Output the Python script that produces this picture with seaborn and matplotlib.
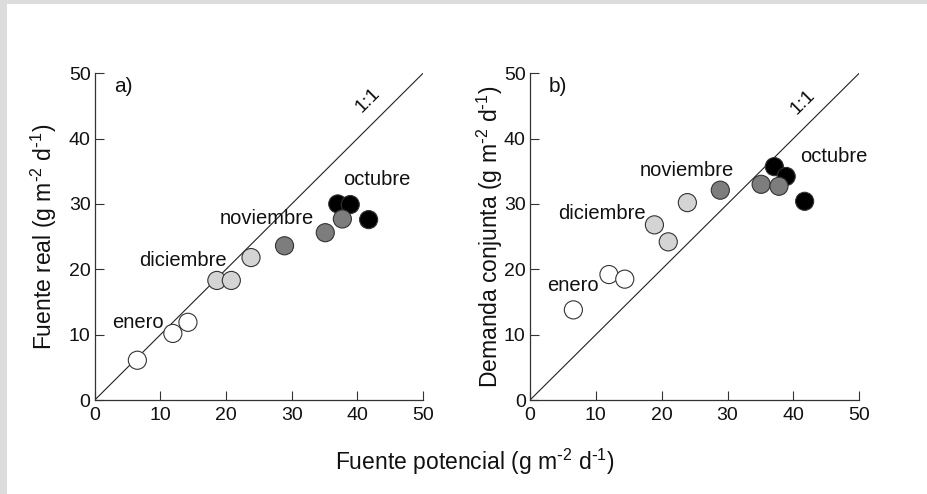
import matplotlib
matplotlib.use("Agg")
import matplotlib.pyplot as plt
import seaborn as sns
import pandas as pd
from matplotlib.patches import Rectangle

sns.set_theme(style="white")
plt.rcParams['font.family'] = ['Liberation Sans', 'DejaVu Sans']
plt.rcParams['mathtext.default'] = 'regular'

# Monthly values (g m-2 d-1)
months = ["octubre"] * 3 + ["noviembre"] * 3 + ["diciembre"] * 3 + ["enero"] * 3
fuente_potencial = [37.0, 38.9, 41.7, 28.9, 35.1, 37.7, 18.6, 20.8, 23.8, 6.5, 11.9, 14.2]
fuente_real = [30.0, 29.9, 27.6, 23.6, 25.6, 27.7, 18.3, 18.3, 21.8, 6.1, 10.2, 11.9]
fuente_potencial_b = [37.1, 38.9, 41.7, 28.9, 35.1, 37.8, 18.9, 21.0, 23.9, 6.6, 12.0, 14.4]
demanda_conjunta = [35.7, 34.2, 30.4, 32.1, 33.0, 32.7, 26.8, 24.2, 30.2, 13.8, 19.2, 18.5]

month_colors = {"octubre": "#000000", "noviembre": "#7d7d7d",
                "diciembre": "#d4d4d4", "enero": "#ffffff"}

ticks = [0, 10, 20, 30, 40, 50]

label_pos_a = {"enero": (6.6, 11.8), "diciembre": (13.4, 21.4),
               "noviembre": (26.2, 27.7), "octubre": (42.9, 33.8)}
label_pos_b = {"enero": (6.5, 17.6), "diciembre": (10.9, 28.6),
               "noviembre": (23.8, 35.1), "octubre": (46.1, 37.2)}

units = r"(g m$^{\text{-}2}$ d$^{\text{-}1}$)"

df_a = pd.DataFrame({"x": fuente_potencial, "y": fuente_real, "mes": months})
df_b = pd.DataFrame({"x": fuente_potencial_b, "y": demanda_conjunta, "mes": months})

fig = plt.figure(figsize=(9.28, 4.94), dpi=100)
fig.patch.set_facecolor("white")
# thin grey frame along the left and top edges
fig.patches.append(Rectangle((0, 0), 7 / 928, 1, transform=fig.transFigure,
                             facecolor="#dcdcdc", edgecolor="none"))
fig.patches.append(Rectangle((0, 1 - 4 / 494), 1, 4 / 494, transform=fig.transFigure,
                             facecolor="#dcdcdc", edgecolor="none"))

ax_a = fig.add_axes([0.102, 0.190, 0.354, 0.662])
ax_b = fig.add_axes([0.571, 0.190, 0.355, 0.662])

panels = [
    (ax_a, df_a, label_pos_a, "a)", "Fuente real " + units, (41.6, 45.8), -0.109),
    (ax_b, df_b, label_pos_b, "b)", "Demanda conjunta " + units, (41.5, 45.5), -0.076),
]

for ax, df, lpos, tag, ylab, pos11, ylab_x in panels:
    ax.set_facecolor("none")
    ax.plot([0, 50], [0, 50], color="#222222", lw=0.8, zorder=1)
    sns.scatterplot(data=df, x="x", y="y", hue="mes", palette=month_colors,
                    s=170, edgecolor="#333333", linewidth=0.8, legend=False,
                    ax=ax, zorder=3)
    ax.set_xlim(0, 50)
    ax.set_ylim(0, 50)
    ax.set_xticks(ticks)
    ax.set_yticks(ticks)
    ax.tick_params(direction="in", length=6.5, width=0.8, color="#333333",
                   labelsize=14, bottom=True, left=True, labelcolor="#111111")
    ax.tick_params(axis="x", pad=5)
    ax.tick_params(axis="y", pad=3)
    for side in ["top", "right"]:
        ax.spines[side].set_visible(False)
    for side in ["left", "bottom"]:
        ax.spines[side].set_color("#333333")
        ax.spines[side].set_linewidth(0.9)
    ax.set_xlabel("")
    ax.set_ylabel(ylab, fontsize=16.5, color="#111111")
    ax.yaxis.set_label_coords(ylab_x, 0.5)
    for mes, (tx, ty) in lpos.items():
        ax.text(tx, ty, mes, fontsize=14.5, ha="center", va="center",
                color="#111111", zorder=4)
    ax.text(4.3, 48.0, tag, fontsize=15, ha="center", va="center", color="#111111")
    ax.text(pos11[0], pos11[1], "1:1", fontsize=14, rotation=45,
            rotation_mode="anchor", ha="center", va="center", color="#111111")

fig.text(475 / 928, 1 - 462 / 494, "Fuente potencial " + units, fontsize=16.5,
         ha="center", va="center", color="#111111")

fig.savefig("out.png", dpi=100, facecolor=fig.get_facecolor())
